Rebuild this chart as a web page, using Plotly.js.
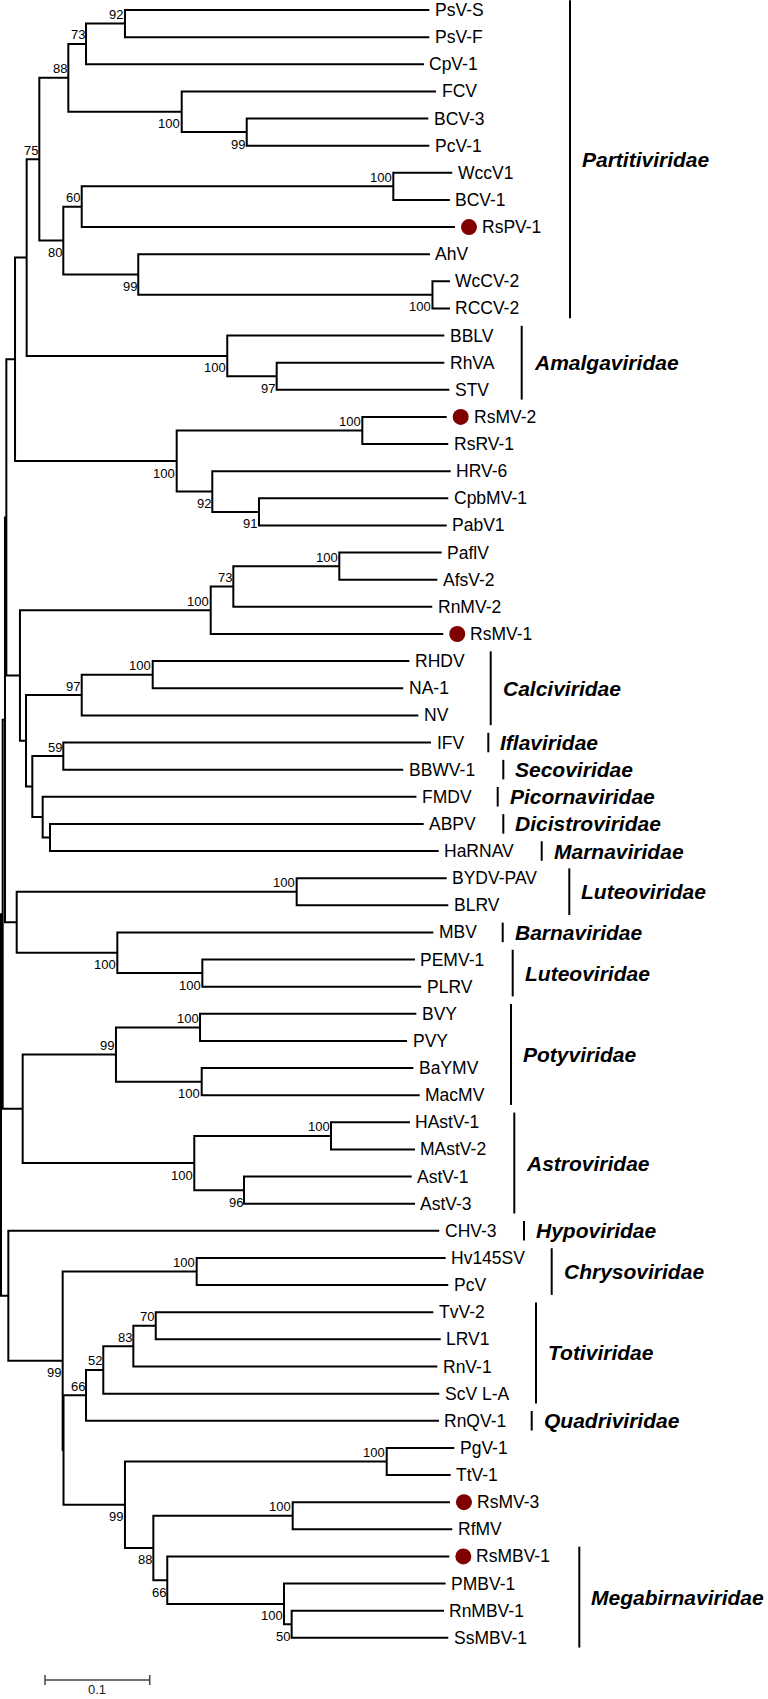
<!DOCTYPE html>
<html><head><meta charset="utf-8">
<script src="https://cdn.plot.ly/plotly-3.0.1.min.js"></script>
<style>html,body{margin:0;padding:0;background:#fff}</style>
</head><body><div id="chart" style="width:768px;height:1699px"></div>
<script>
// ---------- DATA ----------
const leafNames = ['PsV-S','PsV-F','CpV-1','FCV','BCV-3','PcV-1','WccV1','BCV-1','RsPV-1','AhV','WcCV-2','RCCV-2',
 'BBLV','RhVA','STV','RsMV-2','RsRV-1','HRV-6','CpbMV-1','PabV1','PaflV','AfsV-2','RnMV-2','RsMV-1',
 'RHDV','NA-1','NV','IFV','BBWV-1','FMDV','ABPV','HaRNAV','BYDV-PAV','BLRV','MBV','PEMV-1','PLRV',
 'BVY','PVY','BaYMV','MacMV','HAstV-1','MAstV-2','AstV-1','AstV-3','CHV-3','Hv145SV','PcV',
 'TvV-2','LRV1','RnV-1','ScV L-A','RnQV-1','PgV-1','TtV-1','RsMV-3','RfMV','RsMBV-1','PMBV-1','RnMBV-1','SsMBV-1'];
// distance from root of each tip
const leafDepth = [0.4091,0.4091,0.4040,0.4155,0.4081,0.4091,0.4310,0.4288,0.4336,0.4097,0.4288,0.4288,
 0.4234,0.4234,0.4282,0.4257,0.4272,0.4295,0.4272,0.4257,0.4209,0.4167,0.4119,0.4224,
 0.3900,0.3842,0.3986,0.4107,0.3842,0.3968,0.4037,0.4181,0.4257,0.4272,0.4129,0.3954,0.4013,
 0.3967,0.3878,0.3938,0.3999,0.3906,0.3954,0.3923,0.3954,0.4186,0.4247,0.4272,
 0.4129,0.4200,0.4167,0.4186,0.4183,0.4330,0.4295,0.4288,0.4310,0.4282,0.4247,0.4231,0.4272];
const markedLeaves = ['RsPV-1','RsMV-2','RsMV-1','RsMV-3','RsMBV-1'];

// internal nodes
const nodeIds = ['root','M','N','K','B','A','P','n88','n73','n92','n100a','n99a','n80','n60','n100b','n99b','n100c',
 'n100d','n97','n100e','n100f','n92b','n91','L','n100h','n73b','n100g','C','n97c','n100i','D','n59','E','F',
 'G','n100j','n100k','n100l','H','n99c','n100m','n100n','n100o','n100p','n96',
 'I','J1','n100q','J2','n66','n52','n83','n70','n99d','n100r','n88b','n100s','n66b','n100t','n50'];
const nodeChildren = [
 ['M','I'],['N','H'],['K','G'],['B','L'],['A','n100e'],['P','n100d'],['n88','n80'],['n73','n100a'],['n92','CpV-1'],
 ['PsV-S','PsV-F'],['FCV','n99a'],['BCV-3','PcV-1'],['n60','n99b'],['n100b','RsPV-1'],['WccV1','BCV-1'],
 ['AhV','n100c'],['WcCV-2','RCCV-2'],
 ['BBLV','n97'],['RhVA','STV'],['n100f','n92b'],['RsMV-2','RsRV-1'],['HRV-6','n91'],['CpbMV-1','PabV1'],
 ['n100h','C'],['n73b','RsMV-1'],['n100g','RnMV-2'],['PaflV','AfsV-2'],['n97c','D'],['n100i','NV'],['RHDV','NA-1'],
 ['n59','E'],['IFV','BBWV-1'],['FMDV','F'],['ABPV','HaRNAV'],
 ['n100j','n100k'],['BYDV-PAV','BLRV'],['MBV','n100l'],['PEMV-1','PLRV'],['n99c','n100o'],['n100m','n100n'],
 ['BVY','PVY'],['BaYMV','MacMV'],['n100p','n96'],['HAstV-1','MAstV-2'],['AstV-1','AstV-3'],
 ['CHV-3','J1'],['n100q','J2'],['Hv145SV','PcV'],['n66','n99d'],['n52','RnQV-1'],['n83','ScV L-A'],['n70','RnV-1'],
 ['TvV-2','LRV1'],['n100r','n88b'],['PgV-1','TtV-1'],['n100s','n66b'],['RsMV-3','RfMV'],['RsMBV-1','n100t'],
 ['PMBV-1','n50'],['RnMBV-1','SsMBV-1']];
const nodeDepth = [0,0.0016,0.0038,0.0051,0.0134,0.0245,0.0366,0.0643,0.0812,0.1184,0.1726,0.2347,0.0595,0.0771,0.3747,0.1311,0.4121,
 0.2161,0.2633,0.1678,0.3451,0.2018,0.2464,0.0181,0.2003,0.2219,0.3231,0.0239,0.0771,0.1449,0.0299,0.0595,0.0398,0.0468,
 0.0150,0.2824,0.1111,0.1923,0.0207,0.1098,0.1901,0.1917,0.1846,0.3152,0.2321,
 0.0070,0.0589,0.1869,0.0597,0.0812,0.0977,0.1264,0.1478,0.1184,0.3684,0.1455,0.2786,0.1588,0.2703,0.2776];
const nodeSupport = [null,null,null,null,null,null,75,88,73,92,100,99,80,60,100,99,100,
 100,97,100,100,92,91,null,100,73,100,null,97,100,null,59,null,null,
 null,100,100,100,null,99,100,100,100,100,96,
 null,99,100,null,66,52,83,70,99,100,88,100,66,100,50];

const familyNames = ['Partitiviridae','Amalgaviridae','Calciviridae','Iflaviridae','Secoviridae','Picornaviridae',
 'Dicistroviridae','Marnaviridae','Luteoviridae','Barnaviridae','Luteoviridae','Potyviridae','Astroviridae',
 'Hypoviridae','Chrysoviridae','Totiviridae','Quadriviridae','Megabirnaviridae'];
const familyFirst = ['PsV-S','BBLV','RHDV','IFV','BBWV-1','FMDV','ABPV','HaRNAV','BYDV-PAV','MBV','PEMV-1','BVY',
 'HAstV-1','CHV-3','Hv145SV','TvV-2','RnQV-1','RsMBV-1'];
const familyLast = ['RCCV-2','STV','NV','IFV','BBWV-1','FMDV','ABPV','HaRNAV','BLRV','MBV','PLRV','MacMV',
 'AstV-3','CHV-3','PcV','ScV L-A','RnQV-1','SsMBV-1'];
const scaleBarValue = 0.1;
const scaleBarLabel = '0.1';

// ---------- LAYOUT / STYLE ----------
const W = 768, H = 1699;
const pxPerUnit = 1047;       // horizontal pixels per unit of distance
const rootPx = 1;             // pixel of root
const rowPx = 27.13, firstRowPx = 10;
const familyBarPx = [570,521.7,490.7,488.3,503.3,497.7,503.3,541.7,569.3,502.7,512.7,511,514.3,524,551.7,536,531.7,579.3];
const xAt = px => (px - rootPx) / pxPerUnit;
const yAt = px => (px - firstRowPx) / rowPx;
const FONT = 'Liberation Sans, Arial, Helvetica, sans-serif';

// ---------- BUILD ----------
const leafIdx = {}; leafNames.forEach((n,i)=>leafIdx[n]=i);
const nodeIdx = {}; nodeIds.forEach((n,i)=>nodeIdx[n]=i);
const X = {}, Y = {};
leafNames.forEach((n,i)=>{X[n]=leafDepth[i]; Y[n]=i;});
function yOf(id){
  if (id in Y) return Y[id];
  const k = nodeChildren[nodeIdx[id]];
  const y = (yOf(k[0]) + yOf(k[k.length-1]))/2;
  Y[id]=y; return y;
}
nodeIds.forEach((id,i)=>{X[id]=nodeDepth[i];});
nodeIds.forEach(id=>yOf(id));
const parentOf = {}, isFirst = {};
nodeChildren.forEach((k,i)=>k.forEach((c,j)=>{parentOf[c]=nodeIds[i]; isFirst[c]=(j===0);}));

const lx=[], ly=[];
nodeIds.forEach((id,i)=>{
  const k = nodeChildren[i], nx = X[id];
  const f = k[0], l = k[k.length-1];
  lx.push(X[f], nx, nx, X[l], null);
  ly.push(Y[f], Y[f], Y[l], Y[l], null);
  for (let j=1;j<k.length-1;j++){ lx.push(nx, X[k[j]], null); ly.push(Y[k[j]], Y[k[j]], null); }
});

const traces = [{
  type:'scatter', mode:'lines', x:lx, y:ly, hoverinfo:'skip',
  line:{color:'#000', width:2}, connectgaps:false
}];
traces.push({
  type:'scatter', mode:'markers', hoverinfo:'skip',
  x: markedLeaves.map(n=>X[n] + 14/pxPerUnit), y: markedLeaves.map(n=>Y[n]),
  marker:{size:16, color:'#800000', line:{width:0}}
});

const ann = [];
leafNames.forEach((n,i)=>{
  const marked = markedLeaves.includes(n);
  ann.push({x:leafDepth[i], y:i, text:n, xanchor:'left', yanchor:'middle', showarrow:false,
    xshift: marked ? 25 : 3.5, font:{family:FONT, size:17.5, color:'#000'}});
});
nodeIds.forEach((id,i)=>{
  if (nodeSupport[i]==null) return;
  const above = isFirst[id];
  ann.push({x:nodeDepth[i], y:Y[id], text:String(nodeSupport[i]), xanchor:'right', yanchor:'middle',
    showarrow:false, xshift:0.5, yshift: above ? 9 : -12, font:{family:FONT, size:13, color:'#000'}});
});
const shapes = [];
familyNames.forEach((f,i)=>{
  const y0 = Y[familyFirst[i]] - 0.36, y1 = Y[familyLast[i]] + 0.36;
  const bx = xAt(familyBarPx[i]);
  shapes.push({type:'line', xref:'x', yref:'y', x0:bx, x1:bx, y0:y0, y1:y1, line:{color:'#000', width:2}});
  ann.push({x:bx, y:(Y[familyFirst[i]]+Y[familyLast[i]])/2, text:'<b><i>'+f+'</i></b>', xanchor:'left', yanchor:'middle',
    showarrow:false, xshift:10, font:{family:FONT, size:21, color:'#000'}});
});
// scale bar
const sbx0 = xAt(45), sby = yAt(1680), tick = 5/rowPx;
shapes.push({type:'line', xref:'x', yref:'y', x0:sbx0, x1:sbx0+scaleBarValue, y0:sby, y1:sby, line:{color:'#444', width:1.5}});
shapes.push({type:'line', xref:'x', yref:'y', x0:sbx0, x1:sbx0, y0:sby-tick, y1:sby+tick, line:{color:'#444', width:1.5}});
shapes.push({type:'line', xref:'x', yref:'y', x0:sbx0+scaleBarValue, x1:sbx0+scaleBarValue, y0:sby-tick, y1:sby+tick, line:{color:'#444', width:1.5}});
ann.push({x:sbx0+scaleBarValue/2, y:sby, text:scaleBarLabel, xanchor:'center', yanchor:'top', yshift:-2,
  showarrow:false, borderpad:0, borderwidth:0, font:{family:FONT, size:13, color:'#222'}});

const layout = {
  width:W, height:H, margin:{l:0,r:0,t:0,b:0,pad:0},
  paper_bgcolor:'#fff', plot_bgcolor:'#fff', showlegend:false,
  xaxis:{range:[xAt(0), xAt(W)], visible:false, fixedrange:true},
  yaxis:{range:[yAt(H), yAt(0)], visible:false, fixedrange:true},
  shapes:shapes, annotations:ann
};
Plotly.newPlot('chart', traces, layout, {staticPlot:true, displayModeBar:false});
</script>
</body></html>
